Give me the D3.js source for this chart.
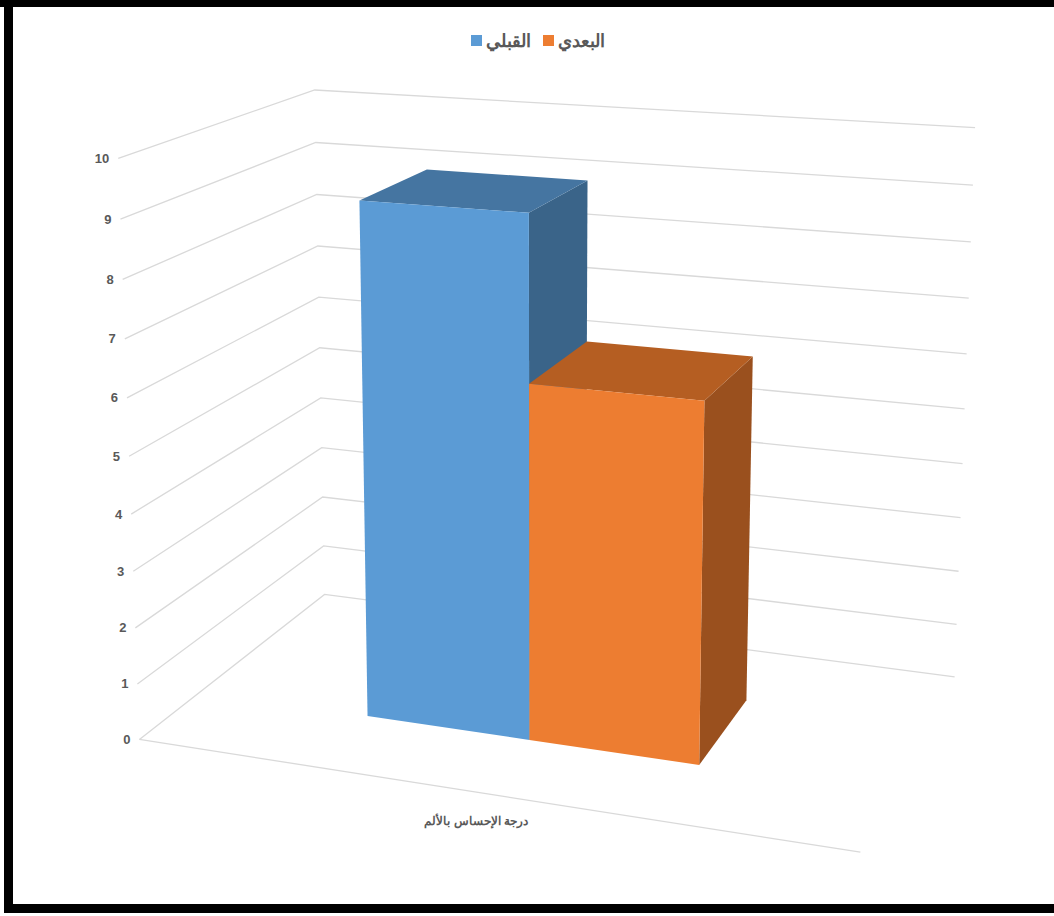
<!DOCTYPE html>
<html>
<head>
<meta charset="utf-8">
<script src="https://cdn.jsdelivr.net/npm/d3@7/dist/d3.min.js"></script>
<style>
  html, body { margin: 0; padding: 0; background: #fff; }
  svg { display: block; }
</style>
</head>
<body>
<svg id="chart" width="1054" height="916"></svg>
<script>
// ---- data ----
const categories = ["درجة الإحساس بالألم"];
const seriesNames = ["القبلي", "البعدي"];
const beforeValues = [9.1];
const afterValues = [6.24];
const yTicks = [0, 1, 2, 3, 4, 5, 6, 7, 8, 9, 10];

const seriesColors = {
  "القبلي": { front: "#5b9bd5", top: "#4575a1", side: "#3a6489" },
  "البعدي": { front: "#ed7d31", top: "#b55e22", side: "#9a501e" }
};

// ---- 3D scene: unit box (x across, y up, z into the page) ----
// The perspective camera is fitted so that the corners of the plot box land on these screen spots.
const boxAnchors = [
  { p: [0, 0, 0], s: [140, 739] },
  { p: [0, 1, 0], s: [118, 158] },
  { p: [0, 0, 1], s: [324, 595] },
  { p: [0, 1, 1], s: [315, 90] },
  { p: [1, 1, 1], s: [975, 128] },
  { p: [1, 0, 1], s: [955, 676] },
  { p: [1, 0, 0], s: [860, 853] }
];

function solveLinear(A, b) {
  const n = b.length;
  const M = A.map((row, i) => row.concat([b[i]]));
  for (let c = 0; c < n; c++) {
    let piv = c;
    for (let r = c + 1; r < n; r++) if (Math.abs(M[r][c]) > Math.abs(M[piv][c])) piv = r;
    [M[c], M[piv]] = [M[piv], M[c]];
    for (let r = 0; r < n; r++) {
      if (r === c) continue;
      const f = M[r][c] / M[c][c];
      for (let k = c; k <= n; k++) M[r][k] -= f * M[c][k];
    }
  }
  return M.map((row, i) => row[n] / row[i]);
}

// least-squares fit of a 3x4 projective camera (last entry fixed at 1)
function fitCamera(anchors) {
  const rows = [], rhs = [];
  anchors.forEach(({ p: [X, Y, Z], s: [u, v] }) => {
    rows.push([X, Y, Z, 1, 0, 0, 0, 0, -u * X, -u * Y, -u * Z]); rhs.push(u);
    rows.push([0, 0, 0, 0, X, Y, Z, 1, -v * X, -v * Y, -v * Z]); rhs.push(v);
  });
  const n = 11;
  const AtA = d3.range(n).map(i => d3.range(n).map(j => d3.sum(rows, r => r[i] * r[j])));
  const Atb = d3.range(n).map(i => d3.sum(rows, (r, k) => r[i] * rhs[k]));
  const a = solveLinear(AtA, Atb);
  return [a.slice(0, 4), a.slice(4, 8), a.slice(8, 11).concat([1])];
}

const P = fitCamera(boxAnchors);
function project(x, y, z) {
  const w = P[2][0] * x + P[2][1] * y + P[2][2] * z + P[2][3];
  return [
    (P[0][0] * x + P[0][1] * y + P[0][2] * z + P[0][3]) / w,
    (P[1][0] * x + P[1][1] * y + P[1][2] * z + P[1][3]) / w
  ];
}

// ---- scales ----
const yScale = d3.scaleLinear().domain([0, 10]).range([0, 1]);
const xCategory = d3.scaleBand().domain(categories).range([0, 1]).paddingInner(0).paddingOuter(0);
const xSeries = d3.scaleBand().domain(seriesNames).range([0, xCategory.bandwidth()])
  .paddingInner(0).paddingOuter(1.08);
const zBar = d3.scaleLinear().domain([0, 1]).range([0.30, 0.69]); // bar depth inside the box

const svg = d3.select("#chart");
svg.append("rect").attr("width", 1054).attr("height", 916).attr("fill", "#fff");

const pathOf = pts => "M" + pts.map(p => project(...p).join(",")).join("L") + "Z";
const lineOf = pts => "M" + pts.map(p => project(...p).join(",")).join("L");

// ---- gridlines on the side wall and back wall ----
const grid = svg.append("g").attr("fill", "none").attr("stroke", "#d9d9d9").attr("stroke-width", 1.3);
yTicks.forEach(t => {
  const y = yScale(t);
  grid.append("path").attr("d", lineOf([[0, y, 0], [0, y, 1], [1, y, 1]]));
});
// front edge of the floor
grid.append("path").attr("d", lineOf([[0, 0, 0], [1, 0, 0]]));

// ---- value axis labels ----
svg.append("g").selectAll("text").data(yTicks).join("text")
  .attr("x", d => project(0, yScale(d), 0)[0] - 9)
  .attr("y", d => project(0, yScale(d), 0)[1])
  .attr("text-anchor", "end")
  .attr("dominant-baseline", "central")
  .attr("font-family", "Liberation Sans, Arial, sans-serif")
  .attr("font-size", 13).attr("font-weight", "bold")
  .attr("fill", "#595959")
  .text(d => d);

// ---- bars (left to right, so nearer bars cover farther ones) ----
const seriesValues = { "القبلي": beforeValues, "البعدي": afterValues };
const bars = svg.append("g");
categories.forEach((cat, ci) => {
  seriesNames.forEach(name => {
    const v = seriesValues[name][ci];
    const x0 = xCategory(cat) + xSeries(name);
    const x1 = x0 + xSeries.bandwidth();
    const y0 = yScale(0), y1 = yScale(v);
    const z0 = zBar(0), z1 = zBar(1);
    const c = seriesColors[name];
    const g = bars.append("g");
    g.append("path").attr("fill", c.side).attr("d", pathOf([[x1, y0, z0], [x1, y0, z1], [x1, y1, z1], [x1, y1, z0]]));
    g.append("path").attr("fill", c.top).attr("d", pathOf([[x0, y1, z0], [x1, y1, z0], [x1, y1, z1], [x0, y1, z1]]));
    g.append("path").attr("fill", c.front).attr("d", pathOf([[x0, y0, z0], [x1, y0, z0], [x1, y1, z0], [x0, y1, z0]]));
  });
});

// ---- category label ----
categories.forEach(cat => {
  const p = project(xCategory(cat) + xCategory.bandwidth() / 2, 0, 0);
  svg.append("text")
    .attr("x", p[0] - 5).attr("y", p[1] + 28)
    .attr("text-anchor", "middle").attr("dominant-baseline", "central")
    .attr("font-family", "Liberation Sans, Arial, sans-serif")
    .attr("font-size", 12).attr("font-weight", "bold")
    .attr("fill", "#595959")
    .text(cat);
});

// ---- legend ----
const legend = svg.append("g").attr("font-family", "Liberation Sans, Arial, sans-serif")
  .attr("font-size", 18).attr("font-weight", "bold").attr("fill", "#595959");
const legendItems = [
  { name: "القبلي", x: 471 },
  { name: "البعدي", x: 543 }
];
legendItems.forEach(it => {
  legend.append("rect").attr("x", it.x).attr("y", 35).attr("width", 11).attr("height", 11)
    .attr("fill", seriesColors[it.name].front);
  legend.append("text").attr("x", it.x + 15).attr("y", 41).attr("dominant-baseline", "central")
    .attr("text-anchor", "start").attr("direction", "ltr").text(it.name);
});

// ---- frame ----
svg.append("rect").attr("x", 0).attr("y", 0).attr("width", 1054).attr("height", 7).attr("fill", "#000");
svg.append("rect").attr("x", 4).attr("y", 0).attr("width", 9).attr("height", 913).attr("fill", "#000");
svg.append("rect").attr("x", 4).attr("y", 904).attr("width", 1050).attr("height", 9).attr("fill", "#000");
</script>
</body>
</html>
